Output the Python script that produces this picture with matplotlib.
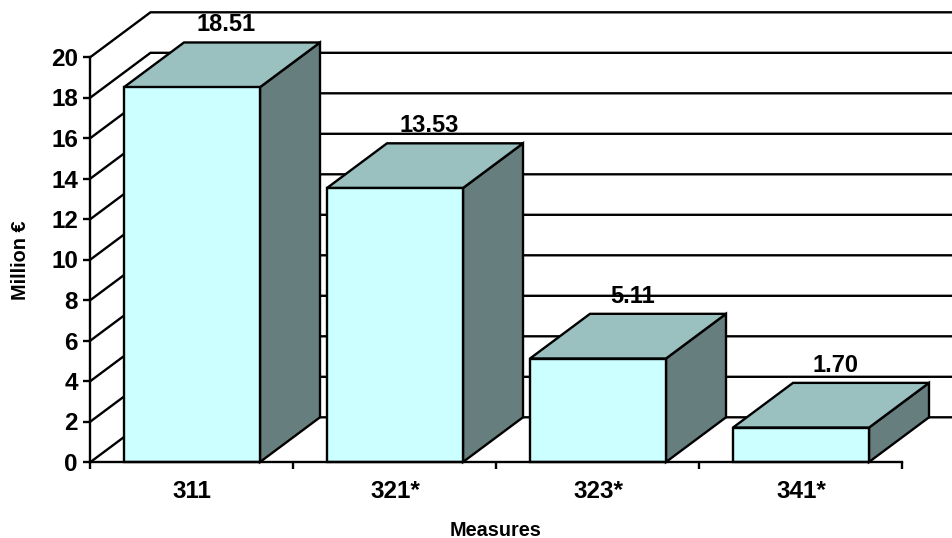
import matplotlib
matplotlib.use('Agg')
from matplotlib import pyplot as plt
from matplotlib.patches import Polygon

plt.rcParams['font.family'] = ['Liberation Sans', 'DejaVu Sans']
plt.rcParams['font.weight'] = 'bold'

measures = ['311', '321*', '323*', '341*']
values = [18.51, 13.53, 5.11, 1.70]
labels = ['18.51', '13.53', '5.11', '1.70']
y_ticks = [0, 2, 4, 6, 8, 10, 12, 14, 16, 18, 20]

# depth of the fake 3d box, in data units
dx = 60 / 203
dy = 44.7 / 20.25
half = 136 / 203 / 2
lw = 1.7

fig = plt.figure(figsize=(9.53, 5.38), dpi=100, facecolor='white')
ax = fig.add_axes([90.5 / 953, 76 / 538, 812 / 953, 405 / 538])
ax.set_xlim(0, 4)
ax.set_ylim(0, 20)

# walls: side lines plus back lines for each y tick
for t in y_ticks:
    ax.plot([0, dx, 4 + dx], [t, t + dy, t + dy], color='black', lw=lw, clip_on=False, zorder=1, solid_joinstyle='miter')

# the bars
for i in range(len(values)):
    c = i + 0.5
    l = c - half
    r = c + half
    v = values[i]
    front = Polygon([(l, 0), (r, 0), (r, v), (l, v)], closed=True, fc='#CCFFFF', ec='black', lw=lw, clip_on=False, zorder=3)
    top = Polygon([(l, v), (r, v), (r + dx, v + dy), (l + dx, v + dy)], closed=True, fc='#9AC0BF', ec='black', lw=lw, clip_on=False, zorder=3)
    side = Polygon([(r, 0), (r + dx, dy), (r + dx, v + dy), (r, v)], closed=True, fc='#667F7E', ec='black', lw=lw, clip_on=False, zorder=3)
    ax.add_patch(side)
    ax.add_patch(top)
    ax.add_patch(front)
    ax.text(c + dx * 0.57, v + dy + 0.88, labels[i], ha='center', va='center', fontsize=17, fontweight='bold', zorder=5, clip_on=False)

ax.spines['top'].set_visible(False)
ax.spines['right'].set_visible(False)
ax.spines['left'].set_linewidth(lw)
ax.spines['bottom'].set_linewidth(lw)
ax.spines['bottom'].set_zorder(4)

ax.set_yticks(y_ticks)
ax.tick_params(axis='y', length=5, width=lw, labelsize=17.5, pad=4)
ax.set_xticks(range(5))
ax.set_xticklabels([])
ax.set_xticks([i + 0.5 for i in range(4)], minor=True)
ax.set_xticklabels(measures, minor=True, fontsize=17.5, fontweight='bold')
ax.tick_params(axis='x', which='major', length=5, width=lw)
ax.tick_params(axis='x', which='minor', length=0, pad=13)

fig.text(496 / 953, 1 - 531 / 538, 'Measures', ha='center', va='center', fontsize=14.3, fontweight='bold')
fig.text(21 / 953, 1 - 260 / 538, 'Million €', ha='center', va='center', rotation=90, fontsize=14.3, fontweight='bold')

fig.savefig('out.png', dpi=100, facecolor='white')
